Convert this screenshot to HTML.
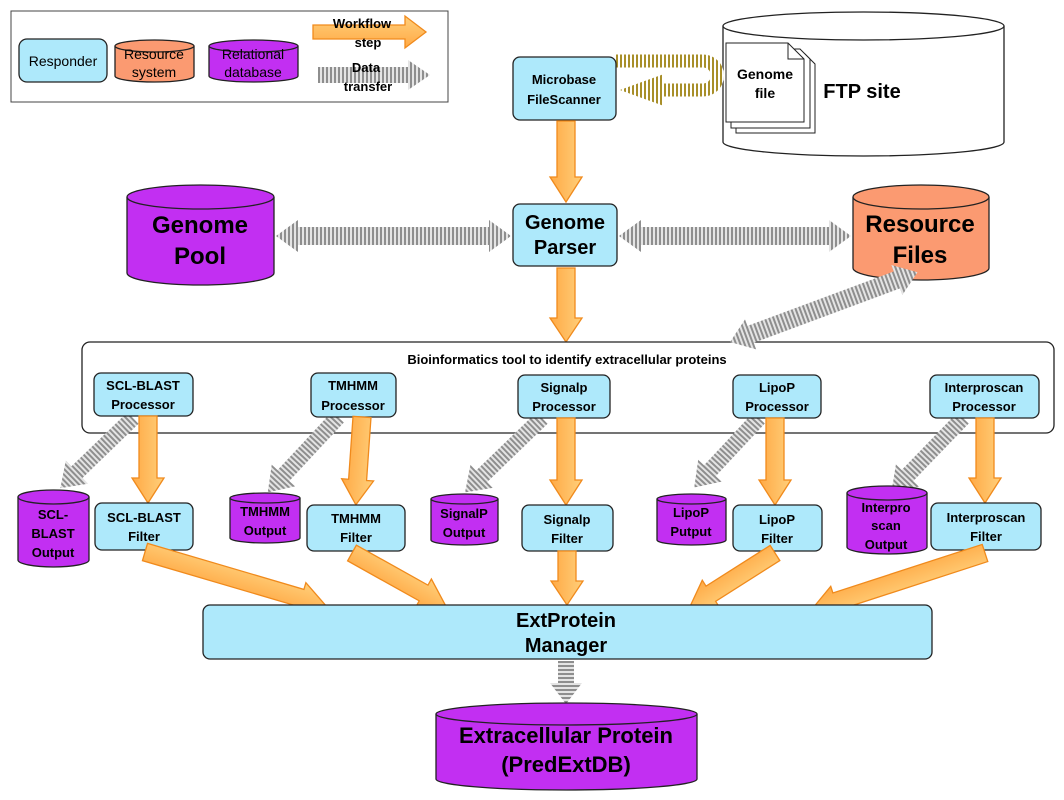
<!DOCTYPE html>
<html><head><meta charset="utf-8"><style>
body{margin:0;background:#fff}
svg text{font-family:"Liberation Sans",Arial,sans-serif;font-weight:bold;fill:#000;text-anchor:middle}
</style></head><body>
<svg width="1064" height="795" viewBox="0 0 1064 795" xmlns="http://www.w3.org/2000/svg">
<defs>
<pattern id="st" width="4" height="40" patternUnits="userSpaceOnUse"><rect width="4" height="40" fill="#e4e4e4"/><rect width="2" height="40" fill="#8e8e8e"/></pattern>
<pattern id="ol" width="4" height="40" patternUnits="userSpaceOnUse"><rect width="4" height="40" fill="#fff"/><rect width="2" height="40" fill="#a88f2a"/></pattern>
<linearGradient id="og" x1="0" y1="0" x2="0" y2="1"><stop offset="0" stop-color="#ffcf7a"/><stop offset="1" stop-color="#ffa945"/></linearGradient>
</defs>
<style>
.b{fill:#aee9fb;stroke:#222;stroke-width:1.3}
.p{fill:#c22ff2;stroke:#222;stroke-width:1.3}
.r{fill:#fb9a71;stroke:#222;stroke-width:1.3}
.o{fill:url(#og);stroke:#f08a1c;stroke-width:1.3}
.g{fill:url(#st)}
</style>

<!-- legend -->
<rect x="11" y="11" width="437" height="91" fill="#fff" stroke="#444"/>
<rect class="b" x="19" y="39" width="88" height="43" rx="8"/>
<text x="63" y="66" font-size="14" style="font-weight:normal">Responder</text>
<path class="r" d="M115 46 L115 76 A39.5 6 0 0 0 194 76 L194 46"/><ellipse class="r" cx="154.5" cy="46" rx="39.5" ry="6"/>
<text x="154" y="59" font-size="14" style="font-weight:normal">Resource</text><text x="154" y="77" font-size="14" style="font-weight:normal">system</text>
<path class="p" d="M209 46 L209 76 A44.5 6 0 0 0 298 76 L298 46"/><ellipse class="p" cx="253.5" cy="46" rx="44.5" ry="6"/>
<text x="253" y="59" font-size="14" style="font-weight:normal">Relational</text><text x="253" y="77" font-size="14" style="font-weight:normal">database</text>
<polygon class="o" transform="translate(313,32)" points="0,-7 92,-7 92,-16 113,0 92,16 92,7 0,7"/>
<text x="362" y="28" font-size="13">Workflow</text><text x="368" y="47" font-size="13">step</text>
<polygon class="g" transform="translate(318,75)" points="0,-8 90,-8 90,-15 112,0 90,15 90,8 0,8"/>
<text x="366" y="72" font-size="13">Data</text><text x="368" y="91" font-size="13">transfer</text>

<!-- FTP -->
<path d="M723 26 L723 142 A140.5 14 0 0 0 1004 142 L1004 26" fill="#fff" stroke="#222" stroke-width="1.3"/>
<ellipse cx="863.5" cy="26" rx="140.5" ry="14" fill="#fff" stroke="#222" stroke-width="1.3"/>
<path d="M616 61 L703 61 A14.5 14.5 0 0 1 703 90 L660 90" fill="none" stroke="url(#ol)" stroke-width="13"/>
<polygon points="620,90 664,74 664,106" fill="url(#ol)"/>
<path d="M736 54 L805 54 L815 64 L815 133 L736 133 Z" fill="#fff" stroke="#222"/>
<path d="M731 49 L800 49 L810 59 L810 128 L731 128 Z" fill="#fff" stroke="#222"/>
<path d="M726 43 L788 43 L804 59 L804 122 L726 122 Z" fill="#fff" stroke="#222"/>
<path d="M788 43 L788 59 L804 59" fill="none" stroke="#222"/>
<text x="765" y="79" font-size="14">Genome</text><text x="765" y="98" font-size="14">file</text>
<text x="862" y="98" font-size="20">FTP site</text>

<!-- scanner -->
<rect class="b" x="513" y="57" width="103" height="63" rx="7"/>
<text x="564" y="84" font-size="13">Microbase</text><text x="564" y="104" font-size="13">FileScanner</text>

<polygon class="o" transform="translate(566,121) rotate(90)" points="0,-9 56,-9 56,-16 81,0 56,16 56,9 0,9"/>

<!-- parser -->
<polygon class="g" transform="translate(276,236)" points="0,0 22,-16 22,-9 213,-9 213,-16 235,0 213,16 213,9 22,9 22,16"/>
<polygon class="g" transform="translate(619,236)" points="0,0 22,-16 22,-9 210,-9 210,-16 232,0 210,16 210,9 22,9 22,16"/>
<rect class="b" x="513" y="204" width="104" height="62" rx="7"/>
<text x="565" y="229" font-size="20">Genome</text><text x="565" y="254" font-size="20">Parser</text>

<path class="p" d="M127 197 L127 273 A73.5 12 0 0 0 274 273 L274 197"/><ellipse class="p" cx="200.5" cy="197" rx="73.5" ry="12"/>
<text x="200" y="233" font-size="24">Genome</text><text x="200" y="264" font-size="24">Pool</text>
<path class="r" d="M853 197 L853 268 A68 12 0 0 0 989 268 L989 197"/><ellipse class="r" cx="921" cy="197" rx="68" ry="12"/>
<text x="920" y="232" font-size="24">Resource</text><text x="920" y="263" font-size="24">Files</text>

<polygon class="o" transform="translate(566,268) rotate(90)" points="0,-9 50,-9 50,-16 74,0 50,16 50,9 0,9"/>

<!-- tools box -->
<rect x="82" y="342" width="972" height="91" rx="8" fill="#fff" stroke="#222" stroke-width="1.3"/>
<polygon class="g" transform="translate(730,342) rotate(-20.4)" points="0,0 22,-16 22,-9 178,-9 178,-16 200,0 178,16 178,9 22,9 22,16"/>
<text x="567" y="364" font-size="13">Bioinformatics tool to identify extracellular proteins</text>

<!-- gray to outputs -->
<polygon class="g" transform="translate(133,418) rotate(136)" points="0,-8 78,-8 78,-16 101,0 78,16 78,8 0,8"/>
<polygon class="g" transform="translate(338,417) rotate(133)" points="0,-8 80,-8 80,-16 103,0 80,16 80,8 0,8"/>
<polygon class="g" transform="translate(542,418) rotate(136)" points="0,-8 84,-8 84,-16 107,0 84,16 84,8 0,8"/>
<polygon class="g" transform="translate(759,418) rotate(133)" points="0,-8 72,-8 72,-16 95,0 72,16 72,8 0,8"/>
<polygon class="g" transform="translate(963,418) rotate(134)" points="0,-8 80,-8 80,-16 103,0 80,16 80,8 0,8"/>

<!-- processors -->
<rect class="b" x="94" y="373" width="99" height="43" rx="7"/><text x="143" y="390" font-size="13">SCL-BLAST</text><text x="143" y="409" font-size="13">Processor</text>
<rect class="b" x="311" y="373" width="85" height="44" rx="7"/><text x="353" y="390" font-size="13">TMHMM</text><text x="353" y="410" font-size="13">Processor</text>
<rect class="b" x="518" y="375" width="92" height="43" rx="7"/><text x="564" y="392" font-size="13">Signalp</text><text x="564" y="411" font-size="13">Processor</text>
<rect class="b" x="733" y="375" width="88" height="43" rx="7"/><text x="777" y="392" font-size="13">LipoP</text><text x="777" y="411" font-size="13">Processor</text>
<rect class="b" x="930" y="375" width="109" height="43" rx="7"/><text x="984" y="392" font-size="13">Interproscan</text><text x="984" y="411" font-size="13">Processor</text>

<!-- orange down -->
<polygon class="o" transform="translate(148,416) rotate(90)" points="0,-9 62,-9 62,-16 87,0 62,16 62,9 0,9"/>
<polygon class="o" transform="translate(362,417) rotate(94)" points="0,-9 63,-9 63,-16 88,0 63,16 63,9 0,9"/>
<polygon class="o" transform="translate(566,418) rotate(90)" points="0,-9 62,-9 62,-16 87,0 62,16 62,9 0,9"/>
<polygon class="o" transform="translate(775,418) rotate(90)" points="0,-9 62,-9 62,-16 87,0 62,16 62,9 0,9"/>
<polygon class="o" transform="translate(985,418) rotate(90)" points="0,-9 60,-9 60,-16 85,0 60,16 60,9 0,9"/>

<!-- outputs -->
<path class="p" d="M18 497 L18 560 A35.5 7 0 0 0 89 560 L89 497"/><ellipse class="p" cx="53.5" cy="497" rx="35.5" ry="7"/>
<text x="53" y="519" font-size="13">SCL-</text><text x="53" y="538" font-size="13">BLAST</text><text x="53" y="557" font-size="13">Output</text>
<path class="p" d="M230 498 L230 538 A35 5 0 0 0 300 538 L300 498"/><ellipse class="p" cx="265" cy="498" rx="35" ry="5"/>
<text x="265" y="516" font-size="13">TMHMM</text><text x="265" y="535" font-size="13">Output</text>
<path class="p" d="M431 499 L431 540 A33.5 5 0 0 0 498 540 L498 499"/><ellipse class="p" cx="464.5" cy="499" rx="33.5" ry="5"/>
<text x="464" y="518" font-size="13">SignalP</text><text x="464" y="537" font-size="13">Output</text>
<path class="p" d="M657 499 L657 540 A34.5 5 0 0 0 726 540 L726 499"/><ellipse class="p" cx="691.5" cy="499" rx="34.5" ry="5"/>
<text x="691" y="517" font-size="13">LipoP</text><text x="691" y="536" font-size="13">Putput</text>
<path class="p" d="M847 493 L847 547 A40 7 0 0 0 927 547 L927 493"/><ellipse class="p" cx="887" cy="493" rx="40" ry="7"/>
<text x="886" y="512" font-size="13">Interpro</text><text x="886" y="530" font-size="13">scan</text><text x="886" y="549" font-size="13">Output</text>

<!-- filters -->
<rect class="b" x="95" y="503" width="98" height="47" rx="7"/><text x="144" y="522" font-size="13">SCL-BLAST</text><text x="144" y="541" font-size="13">Filter</text>
<rect class="b" x="307" y="505" width="98" height="46" rx="7"/><text x="356" y="523" font-size="13">TMHMM</text><text x="356" y="542" font-size="13">Filter</text>
<rect class="b" x="522" y="505" width="91" height="46" rx="7"/><text x="567" y="524" font-size="13">Signalp</text><text x="567" y="543" font-size="13">Filter</text>
<rect class="b" x="733" y="505" width="89" height="46" rx="7"/><text x="777" y="524" font-size="13">LipoP</text><text x="777" y="543" font-size="13">Filter</text>
<rect class="b" x="931" y="503" width="110" height="47" rx="7"/><text x="986" y="522" font-size="13">Interproscan</text><text x="986" y="541" font-size="13">Filter</text>

<!-- to manager -->
<polygon class="o" transform="translate(145,552) rotate(16.4)" points="0,-9 163,-9 163,-16 188,0 163,16 163,9 0,9"/>
<polygon class="o" transform="translate(352,553) rotate(29.2)" points="0,-9 82,-9 82,-16 107,0 82,16 82,9 0,9"/>
<polygon class="o" transform="translate(567,551) rotate(90)" points="0,-9 30,-9 30,-16 54,0 30,16 30,9 0,9"/>
<polygon class="o" transform="translate(775,553) rotate(147.6)" points="0,-9 76,-9 76,-16 101,0 76,16 76,9 0,9"/>
<polygon class="o" transform="translate(985,553) rotate(162)" points="0,-9 157,-9 157,-16 182,0 157,16 157,9 0,9"/>

<rect class="b" x="203" y="605" width="729" height="54" rx="7"/>
<text x="566" y="627" font-size="20">ExtProtein</text><text x="566" y="652" font-size="20">Manager</text>

<polygon class="g" transform="translate(566,661) rotate(90)" points="0,-8 22,-8 22,-16 43,0 22,16 22,8 0,8"/>
<path class="p" d="M436 714 L436 779 A130.5 11 0 0 0 697 779 L697 714"/><ellipse class="p" cx="566.5" cy="714" rx="130.5" ry="11"/>
<text x="566" y="743" font-size="22">Extracellular Protein</text><text x="566" y="772" font-size="22">(PredExtDB)</text>
</svg>
</body></html>
